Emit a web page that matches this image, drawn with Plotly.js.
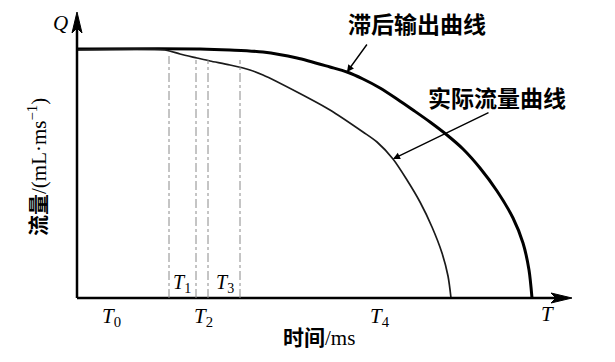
<!DOCTYPE html>
<html><head><meta charset="utf-8">
<script src="https://cdn.plot.ly/plotly-3.0.1.min.js"></script>
<style>body{margin:0;background:#fff}#c{width:615px;height:362px}</style>
</head><body><div id="c"></div>
<script>
// Lagged output curve (滞后输出曲线)
const lagX = [0, 123, 153, 186, 220, 253, 270, 286, 303, 320, 336, 353, 370, 386, 403, 420, 436, 446, 452, 455];
const lagY = [249, 249, 248, 246, 240, 231, 226, 219, 210, 199, 188, 176, 163, 149, 130, 107, 80, 55, 28, 0];
// Actual flow curve (实际流量曲线)
const actX = [0, 88, 103, 120, 133, 153, 173, 186, 220, 253, 286, 300, 316, 330, 343, 355, 365, 371, 374];
const actY = [248, 248, 244, 240, 237, 233, 228, 223, 206, 188, 166, 156, 139, 118, 96, 71, 45, 22, 0];
// Time markers (dash-dot lines)
const markX = [92, 119, 131, 163];
const markTop = [242, 238, 238, 238];
// Labels
const tLabels = ['0', '2', '4', ''];
const tLabelX = [34, 126, 303, 470];
const tInLabels = ['1', '3'];
const tInX = [105, 148];

const serif = 'Liberation Serif, Noto Sans CJK SC';
const traces = [
  {x: lagX, y: lagY, mode: 'lines', line: {color: '#000', width: 3, shape: 'spline', smoothing: 0.8}, hoverinfo: 'skip'},
  {x: actX, y: actY, mode: 'lines', line: {color: '#1a1a1a', width: 1.7, shape: 'spline', smoothing: 0.8}, hoverinfo: 'skip'}
];
const shapes = [
  {type: 'line', xref: 'x', yref: 'y', x0: 0, x1: 485, y0: 0, y1: 0, line: {color: '#000', width: 2.5}},
  {type: 'line', xref: 'x', yref: 'y', x0: 0, x1: 0, y0: 0, y1: 275, line: {color: '#000', width: 2.5}},
  {type: 'path', xref: 'x', yref: 'y', path: 'M 474 5 L 495 0 L 474 -5 L 479 0 Z', fillcolor: '#000', line: {color: '#000', width: 1}},
  {type: 'path', xref: 'x', yref: 'y', path: 'M -5 265 L 0 286 L 5 265 L 0 270 Z', fillcolor: '#000', line: {color: '#000', width: 1}}
];
markX.forEach((mx, i) => shapes.push({type: 'line', xref: 'x', yref: 'y', x0: mx, x1: mx, y0: 0, y1: markTop[i], line: {color: '#8a8a8a', width: 1, dash: 'dashdot'}}));

const ann = [];
tLabels.forEach((t, i) => ann.push({x: tLabelX[i], y: t === '' ? -16 : -19, xref: 'x', yref: 'y', text: '<i>T</i>' + (t ? '<sub>' + t + '</sub>' : ''), showarrow: false, font: {family: serif, size: 21, color: '#000'}, xanchor: 'center', yanchor: 'middle'}));
tInLabels.forEach((t, i) => ann.push({x: tInX[i], y: 15, xref: 'x', yref: 'y', text: '<i>T</i><sub>' + t + '</sub>', showarrow: false, font: {family: serif, size: 20, color: '#000'}, xanchor: 'center', yanchor: 'middle'}));
ann.push({x: -17, y: 275, xref: 'x', yref: 'y', text: '<i>Q</i>', showarrow: false, font: {family: serif, size: 21, color: '#000'}});
ann.push({x: 340, y: 275, xref: 'x', yref: 'y', text: '<b>滞后输出曲线</b>', showarrow: false, font: {family: 'Noto Sans CJK SC', size: 23, color: '#000'}});
ann.push({x: 420, y: 201, xref: 'x', yref: 'y', text: '<b>实际流量曲线</b>', showarrow: false, font: {family: 'Noto Sans CJK SC', size: 23, color: '#000'}});
ann.push({x: 270, y: 226, xref: 'x', yref: 'y', ax: 21, ay: -29, text: '', showarrow: true, arrowhead: 2, arrowsize: 1, arrowwidth: 1.4, arrowcolor: '#000'});
ann.push({x: 316, y: 139, xref: 'x', yref: 'y', ax: 97, ay: -47, text: '', showarrow: true, arrowhead: 2, arrowsize: 1, arrowwidth: 1.4, arrowcolor: '#000'});
ann.push({x: 242, y: -40, xref: 'x', yref: 'y', text: '<b>时间</b>/ms', showarrow: false, font: {family: serif, size: 21, color: '#000'}});
ann.push({x: -40, y: 131, xref: 'x', yref: 'y', text: '<b>流量</b>/(mL·ms<sup>−1</sup>)', textangle: -90, showarrow: false, font: {family: serif, size: 21, color: '#000'}});

Plotly.newPlot('c', traces, {
  width: 615, height: 362,
  margin: {l: 0, r: 0, t: 0, b: 0},
  paper_bgcolor: '#fff', plot_bgcolor: '#fff',
  showlegend: false,
  xaxis: {range: [-77, 538], visible: false, fixedrange: true},
  yaxis: {range: [-64, 298], visible: false, fixedrange: true},
  shapes: shapes, annotations: ann
}, {displayModeBar: false, staticPlot: true});
</script></body></html>
